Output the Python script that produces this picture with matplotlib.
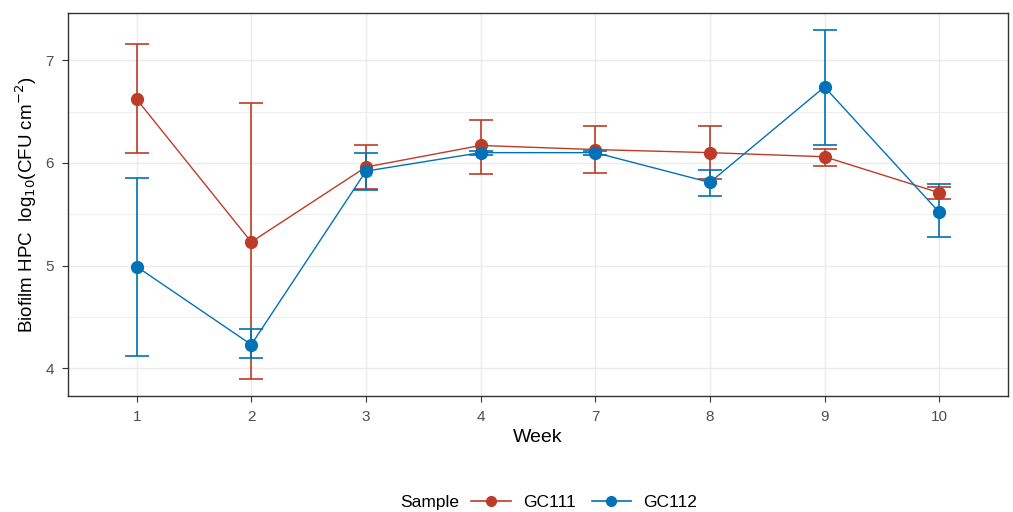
import numpy as np
import matplotlib.pyplot as plt
from matplotlib.lines import Line2D
from matplotlib.ticker import MultipleLocator

plt.rcParams['font.family'] = ['Liberation Sans', 'DejaVu Sans']

weeks = ['1', '2', '3', '4', '7', '8', '9', '10']

# mean log10 counts and error bar limits per sample
gc111 = [6.62, 5.23, 5.96, 6.17, 6.13, 6.10, 6.06, 5.71]
gc111_hi = [7.16, 6.58, 6.17, 6.42, 6.36, 6.36, 6.14, 5.77]
gc111_lo = [6.10, 3.90, 5.75, 5.89, 5.90, 5.84, 5.97, 5.65]

gc112 = [4.99, 4.23, 5.92, 6.10, 6.10, 5.81, 6.74, 5.52]
gc112_hi = [5.85, 4.38, 6.10, 6.12, 6.12, 5.93, 7.29, 5.79]
gc112_lo = [4.12, 4.10, 5.74, 6.08, 6.08, 5.68, 6.17, 5.28]

red = '#BC3C29'
blue = '#0072B5'

fig = plt.figure(figsize=(10.13, 5.12), dpi=100)
ax = fig.add_axes([0.067, 0.2266, 0.928, 0.748])

x = np.arange(len(weeks))
series = [('GC111', gc111, gc111_lo, gc111_hi, red),
          ('GC112', gc112, gc112_lo, gc112_hi, blue)]
handles = []
for name, y, lo, hi, col in series:
    y = np.array(y)
    err = [y - np.array(lo), np.array(hi) - y]
    ax.errorbar(x, y, yerr=err, color=col, lw=1.0, elinewidth=1.2,
                capsize=8.4, capthick=1.2, marker='o', ms=8.5, zorder=3)
    handles.append(Line2D([], [], color=col, lw=1.2, marker='o', ms=7,
                          label=name))

ax.set_xlim(-0.6, len(weeks) - 0.4)
ax.set_ylim(3.73, 7.46)
ax.set_xticks(x)
ax.set_xticklabels(weeks)
ax.yaxis.set_major_locator(MultipleLocator(1))
ax.yaxis.set_minor_locator(MultipleLocator(0.5))

ax.grid(which='major', color='#EBEBEB', lw=1.0)
ax.grid(which='minor', axis='y', color='#EBEBEB', lw=0.6)
ax.set_axisbelow(True)
for s in ax.spines.values():
    s.set_color('#333333')
    s.set_linewidth(1.0)
ax.tick_params(which='major', colors='#333333', labelcolor='#4D4D4D',
               labelsize=11, length=4, width=0.8, pad=6)
ax.tick_params(which='minor', length=0)

ax.set_xlabel('Week', fontsize=14, labelpad=4)
ax.set_ylabel('Biofilm HPC  log$_{10}$(CFU cm$^{-2}$)', fontsize=13.5, labelpad=5)

# legend along the bottom, title to the left of the keys
fig.text(0.395, 0.018, 'Sample', fontsize=12.5, va='center', ha='left')
fig.legend(handles=handles, loc='center left', bbox_to_anchor=(0.465, 0.018),
           ncol=2, frameon=False, fontsize=12.5, handlelength=2.3,
           columnspacing=0.9, handletextpad=0.7, borderaxespad=0, borderpad=0)

fig.savefig('out.png', dpi=100)
